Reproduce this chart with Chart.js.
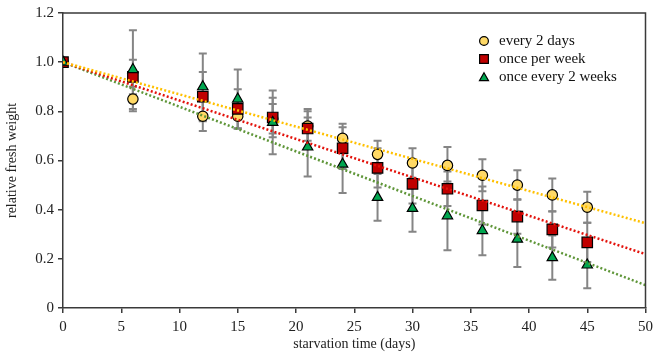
<!DOCTYPE html>
<html>
<head>
<meta charset="utf-8">
<script src="https://cdn.jsdelivr.net/npm/chart.js@4/dist/chart.umd.min.js"></script>
<style>
    html, body { margin: 0; padding: 0; background: #fff; }
    #wrap { width: 658px; height: 357px; position: relative; }
</style>
</head>
<body>
<div id="wrap"><canvas id="chart"></canvas></div>
<script>
// days of starvation
const days = [0, 6, 12, 15, 18, 21, 24, 27, 30, 33, 36, 39, 42, 45];

// watering regimes: mean relative fresh weight and error bar half-length
const every2Days = [1.0, 0.85, 0.78, 0.78, 0.77, 0.74, 0.69, 0.625, 0.59, 0.58, 0.54, 0.50, 0.46, 0.41];
const every2DaysErr = [0, 0.05, 0.06, 0.05, 0.06, 0.06, 0.06, 0.055, 0.06, 0.075, 0.065, 0.06, 0.067, 0.063];

const oncePerWeek = [1.0, 0.94, 0.86, 0.81, 0.775, 0.73, 0.65, 0.57, 0.505, 0.485, 0.417, 0.372, 0.32, 0.267];
const oncePerWeekErr = [0, 0.07, 0.10, 0.08, 0.08, 0.08, 0.085, 0.08, 0.08, 0.07, 0.077, 0.07, 0.074, 0.08];

const every2Weeks = [1.0, 0.97, 0.90, 0.85, 0.755, 0.655, 0.585, 0.45, 0.405, 0.375, 0.315, 0.28, 0.205, 0.175];
const every2WeeksErr = [0, 0.16, 0.135, 0.12, 0.13, 0.12, 0.117, 0.095, 0.095, 0.14, 0.1, 0.113, 0.09, 0.095];

// linear trend lines, endpoints
const trendDays = [0, 50];
const trendEvery2Days = [1.0, 0.345];
const trendOncePerWeek = [1.0, 0.219];
const trendEvery2Weeks = [1.0, 0.093];

const serif = '"Liberation Serif", "Times New Roman", serif';
const axisColor = '#3a3a3a';

const toXY = (xs, ys) => xs.map((x, i) => ({ x, y: ys[i] }));

const errorBars = {
    id: 'errorBars',
    beforeDatasetsDraw(chart) {
        const { ctx, scales: { x, y } } = chart;
        ctx.save();
        ctx.strokeStyle = '#858585';
        ctx.lineWidth = 2;
        chart.data.datasets.forEach((ds) => {
            if (!ds.errors) return;
            ds.data.forEach((p, i) => {
                const e = ds.errors[i];
                if (!e) return;
                const px = x.getPixelForValue(p.x);
                const top = y.getPixelForValue(p.y + e);
                const bot = y.getPixelForValue(p.y - e);
                ctx.beginPath();
                ctx.moveTo(px, top); ctx.lineTo(px, bot);
                ctx.moveTo(px - 4, top); ctx.lineTo(px + 4, top);
                ctx.moveTo(px - 4, bot); ctx.lineTo(px + 4, bot);
                ctx.stroke();
            });
        });
        ctx.restore();
    }
};

const frame = {
    id: 'frame',
    afterDraw(chart) {
        const { ctx, chartArea: a } = chart;
        ctx.save();
        ctx.strokeStyle = axisColor;
        ctx.lineWidth = 1.5;
        ctx.beginPath();
        ctx.moveTo(a.left, a.top); ctx.lineTo(a.right, a.top); ctx.lineTo(a.right, a.bottom);
        ctx.stroke();
        ctx.restore();
    }
};

const legendBox = {
    id: 'legendBox',
    afterDraw(chart) {
        const { ctx } = chart;
        const items = chart.data.datasets.filter((ds) => ds.inLegend);
        items.sort((a, b) => a.legendRow - b.legendRow);
        ctx.save();
        ctx.font = `15px ${serif}`;
        ctx.textBaseline = 'middle';
        items.forEach((ds, i) => {
            const cy = 41 + i * 18;
            ctx.fillStyle = ds.backgroundColor;
            ctx.strokeStyle = '#000';
            ctx.lineWidth = 1.2;
            Chart.helpers.drawPoint(ctx, { pointStyle: ds.pointStyle, radius: ds.legendRadius, borderWidth: 1.2 }, 484, cy + (ds.pointStyle === 'triangle' ? 1 : 0));
            ctx.fillStyle = '#111';
            ctx.fillText(ds.label, 499, cy);
        });
        ctx.restore();
    }
};

const pointSet = (label, ys, errs, style, fill, radius, legendRadius, order, row) => ({
    type: 'scatter',
    label,
    data: toXY(days, ys),
    errors: errs,
    pointStyle: style,
    backgroundColor: fill,
    borderColor: '#000',
    borderWidth: 1.2,
    pointRadius: radius,
    pointHoverRadius: radius,
    order,
    inLegend: true,
    legendRow: row,
    legendRadius
});

const trendSet = (ys, color) => ({
    type: 'line',
    label: '',
    data: toXY(trendDays, ys),
    borderColor: color,
    borderWidth: 2.5,
    borderDash: [2, 2.2],
    borderCapStyle: 'butt',
    pointRadius: 0,
    fill: false,
    order: 0
});

new Chart(document.getElementById('chart'), {
    type: 'scatter',
    data: {
        datasets: [
            trendSet(trendEvery2Days, '#ffc000'),
            trendSet(trendOncePerWeek, '#e3120b'),
            trendSet(trendEvery2Weeks, '#5f9639'),
            pointSet('every 2 days', every2Days, every2DaysErr, 'circle', '#ffd966', 5.2, 4.4, 3, 0),
            pointSet('once per week', oncePerWeek, oncePerWeekErr, 'rect', '#c00000', 7.4, 6.2, 2, 1),
            pointSet('once every 2 weeks', every2Weeks, every2WeeksErr, 'triangle', '#00a650', 6, 5.2, 1, 2)
        ]
    },
    options: {
        responsive: true,
        maintainAspectRatio: false,
        animation: false,
        layout: { padding: { left: 0, top: 7, right: 9, bottom: 0 } },
        plugins: {
            legend: { display: false },
            tooltip: { enabled: false }
        },
        scales: {
            x: {
                type: 'linear',
                min: 0,
                max: 50,
                afterFit: (s) => { s.height = 49; },
                border: { color: axisColor, width: 1.5 },
                grid: { drawOnChartArea: false, drawTicks: true, tickLength: 5, color: axisColor, lineWidth: 1.5 },
                ticks: { stepSize: 5, color: '#222', padding: 5, font: { family: serif, size: 15 } },
                title: { display: true, text: 'starvation time (days)', color: '#222', padding: { top: 3 }, font: { family: serif, size: 14 } }
            },
            y: {
                type: 'linear',
                min: 0,
                max: 1.2,
                afterFit: (s) => { s.width = 63; },
                border: { color: axisColor, width: 1.5 },
                grid: { drawOnChartArea: false, drawTicks: true, tickLength: 5, color: axisColor, lineWidth: 1.5 },
                ticks: {
                    stepSize: 0.2,
                    color: '#222',
                    padding: 4,
                    font: { family: serif, size: 15 },
                    callback: (v) => (Math.abs(v) < 1e-9 ? '0' : Number(v).toFixed(1))
                },
                title: { display: true, text: 'relative fresh weight', color: '#222', padding: { bottom: 2 }, font: { family: serif, size: 14 } }
            }
        }
    },
    plugins: [errorBars, frame, legendBox]
});
</script>
</body>
</html>
